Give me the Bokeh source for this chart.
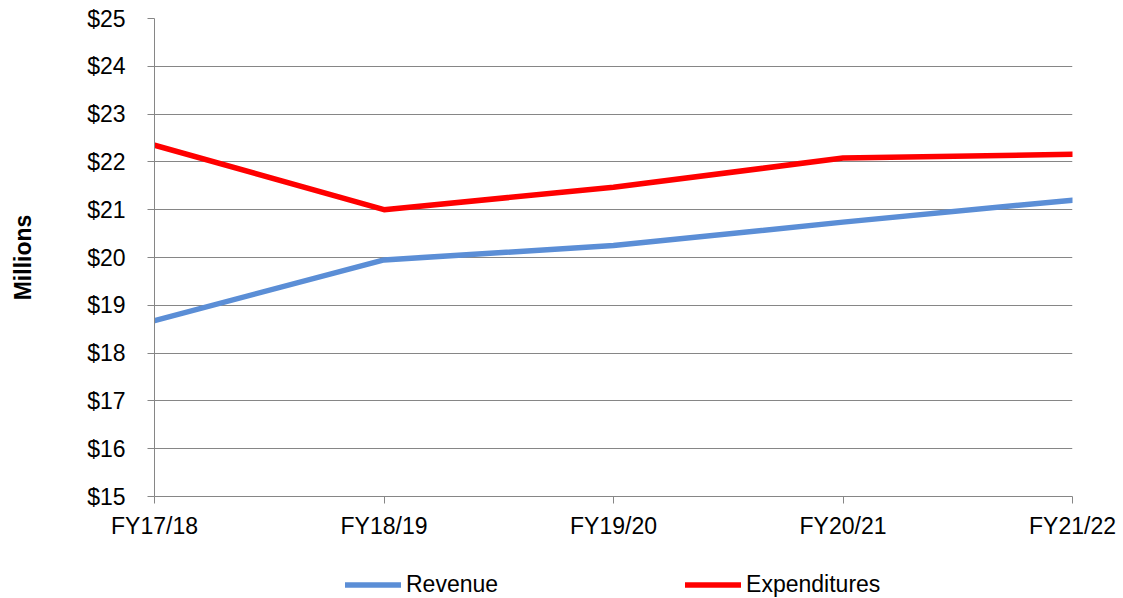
from bokeh.plotting import figure
from bokeh.layouts import column
from bokeh.models import Range1d, FixedTicker, Legend, LegendItem
from bokeh.embed import file_html
from bokeh.resources import INLINE

years = ["FY17/18", "FY18/19", "FY19/20", "FY20/21", "FY21/22"]
revenue = [18.68, 19.95, 20.25, 20.74, 21.20]
expenditures = [22.35, 21.00, 21.47, 22.08, 22.16]
y_ticks = [15, 16, 17, 18, 19, 20, 21, 22, 23, 24, 25]
y_labels = ["$15", "$16", "$17", "$18", "$19", "$20", "$21", "$22", "$23", "$24", "$25"]
series_names = ["Revenue", "Expenditures"]
series_colors = ["#5B8ED6", "#FF0000"]

FONT = "Liberation Sans"
GRAY = "#868686"
LW = 5.5

xs = list(range(len(years)))
series = [revenue, expenditures]

p = figure(width=1123, height=560, output_backend="svg", toolbar_location=None,
           x_range=Range1d(xs[0], xs[-1]), y_range=Range1d(y_ticks[0], y_ticks[-1]),
           min_border_left=154, min_border_right=51, min_border_top=18, min_border_bottom=64)
p.outline_line_color = None
p.background_fill_color = "white"

for vals, col in zip(series, series_colors):
    p.line(xs, vals, line_color=col, line_width=LW, line_cap="round", line_join="round")

p.xaxis.ticker = FixedTicker(ticks=xs)
p.xaxis.major_label_overrides = {i: years[i] for i in xs}
p.yaxis.ticker = FixedTicker(ticks=y_ticks)
p.yaxis.major_label_overrides = {t: l for t, l in zip(y_ticks, y_labels)}

for ax in (p.xaxis, p.yaxis):
    ax.axis_line_color = GRAY
    ax.axis_line_width = 1
    ax.major_tick_line_color = GRAY
    ax.major_tick_out = 7
    ax.major_tick_in = 0
    ax.minor_tick_line_color = None
    ax.major_label_text_font = FONT
    ax.major_label_text_font_size = "23px"
    ax.major_label_text_color = "black"

p.xaxis.major_label_standoff = 9
p.yaxis.major_label_standoff = 22
p.yaxis.axis_label = "Millions"
p.yaxis.axis_label_text_font = FONT
p.yaxis.axis_label_text_font_size = "23px"
p.yaxis.axis_label_text_font_style = "bold"
p.yaxis.axis_label_text_color = "black"
p.yaxis.axis_label_standoff = 48

p.xgrid.visible = False
p.ygrid.ticker = FixedTicker(ticks=y_ticks)
p.ygrid.grid_line_color = GRAY
p.ygrid.grid_line_width = 1

# legend strip below the chart (hidden copies of the series feed the legend)
lg = figure(width=1123, height=38, output_backend="svg", toolbar_location=None,
            x_range=p.x_range, y_range=p.y_range,
            x_axis_location=None, y_axis_location=None,
            min_border_left=154, min_border_right=51, min_border_top=0, min_border_bottom=0)
lg.outline_line_color = None
lg.grid.visible = False
items = []
for name, vals, col in zip(series_names, series, series_colors):
    r = lg.line(xs, vals, line_color=col, line_width=LW, line_cap="round", visible=False)
    items.append(LegendItem(label=name, renderers=[r]))

legend = Legend(items=items, orientation="horizontal", location=(191, 0),
                glyph_width=56, glyph_height=23, label_height=23, label_standoff=5,
                spacing=187, padding=0, margin=0, click_policy="none",
                inactive_fill_alpha=0,
                border_line_color=None, background_fill_alpha=0,
                label_text_font=FONT, label_text_font_size="23px", label_text_color="black")
lg.add_layout(legend)

layout = column(p, lg, spacing=0)
open("out.html", "w").write(file_html(layout, INLINE))
